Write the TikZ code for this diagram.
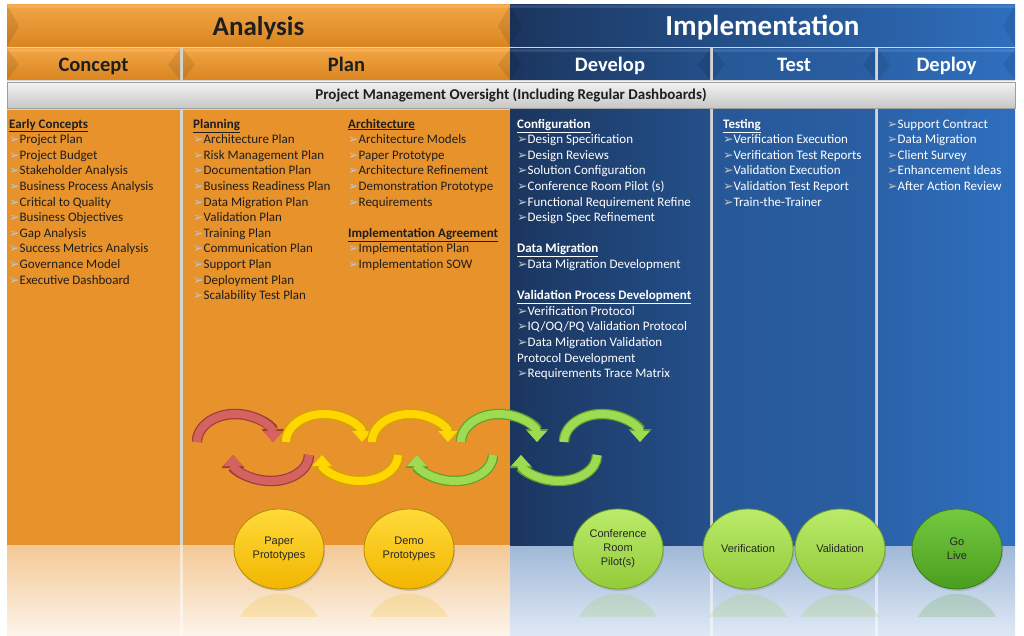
\documentclass[tikz,border=0pt]{standalone}
\usepackage{fontspec}
\setmainfont{Carlito}
\newfontfamily\arialfont{Liberation Sans}
\newfontfamily\dingfont{DejaVu Sans}
\usepackage{tikz}
\usetikzlibrary{arrows.meta, positioning, shapes.geometric, shadows}
\definecolor{orangetop}{HTML}{F2A545}
\definecolor{orangemid}{HTML}{E9952E}
\definecolor{orangebot}{HTML}{D98520}
\definecolor{orangebody}{HTML}{E8922C}
\definecolor{navyL}{HTML}{1B365F}
\definecolor{navyR}{HTML}{2F6FBE}
\definecolor{sepgray}{HTML}{D4D4D4}
\definecolor{inkdark}{HTML}{1E1E1E}
\definecolor{bulorange}{HTML}{B8C6D6}
\definecolor{bulblue}{HTML}{C4C4C4}
\definecolor{ringred}{HTML}{D4625F}
\definecolor{ringredd}{HTML}{A03C3C}
\definecolor{ringyel}{HTML}{FFD600}
\definecolor{ringyeld}{HTML}{CFA600}
\definecolor{ringgrn}{HTML}{9CDB52}
\definecolor{ringgrnd}{HTML}{62A02C}
\definecolor{goldtop}{HTML}{FFDA3A}
\definecolor{goldbot}{HTML}{F2B600}
\definecolor{goldrim}{HTML}{B38A00}
\definecolor{limetop}{HTML}{BBEB6A}
\definecolor{limebot}{HTML}{93CB3A}
\definecolor{limerim}{HTML}{6E9E2A}
\definecolor{livetop}{HTML}{74C940}
\definecolor{livebot}{HTML}{4A9E1E}
\definecolor{liverim}{HTML}{3A7A18}
\colorlet{bul}{bulorange}
\newcommand{\itm}[1]{\strut{\dingfont\fontsize{12.5}{12.5}\selectfont\textcolor{bul}{➢}}#1}
\newcommand{\hd}[1]{\strut\textbf{\underline{#1}}}

\begin{document}
\begin{tikzpicture}[x=1pt, y=-1pt,
    phasebar/.style={rectangle, inner sep=0pt, minimum height=42pt,
        text height=19pt, text depth=0pt, font=\fontsize{27}{30}\selectfont\bfseries},
    stagebar/.style={rectangle, inner sep=0pt, minimum height=31pt,
        text height=14pt, text depth=0pt, font=\fontsize{20.5}{22}\selectfont\bfseries},
    coltext/.style={anchor=north west, inner sep=0pt, align=left,
        font=\fontsize{13}{15.6}\selectfont},
    bullets/.style={execute at begin node={\colorlet{bul}{#1}}},
    milestone/.style n args={3}{ellipse, minimum width=90pt, minimum height=80pt,
        top color=#1, bottom color=#2, draw=#3, line width=0.8pt, align=center,
        text=black!85, font=\arialfont\fontsize{11}{14}\selectfont,
        drop shadow={shadow xshift=1pt, shadow yshift=-2pt, opacity=.3}},
    ringarrow/.style 2 args={draw=#1, line width=8pt,
        -{Triangle[width=19pt, length=11pt]},
        preaction={draw=#2, line width=10.5pt, -{Triangle[width=22.5pt, length=13pt]}}}
]
\useasboundingbox (0,0) rectangle (1024,636);

% backdrop and reflections
\fill[sepgray] (7,5) rectangle (1015,545);
\shade[top color=orangebody!50!white, bottom color=orangebody!10!white] (7,545) rectangle (510,636);
\shade[top color=navyL!25!navyR!45!white, bottom color=navyR!15!white] (510,545) rectangle (1015,636);
\foreach \gx in {180, 710, 875}
    \fill[white, opacity=.5] (\gx,545) rectangle (\gx+3,636);

% column bodies
\fill[orangebody] (7,110) rectangle (180,545);
\fill[orangebody] (183,110) rectangle (510,545);
\shade[left color=navyL, right color=navyL!55!navyR] (510,110) rectangle (710,545);
\shade[left color=navyL!40!navyR, right color=navyL!28!navyR] (713,110) rectangle (875,545);
\shade[left color=navyL!22!navyR, right color=navyR] (878,110) rectangle (1015,545);

% phase headers
\node[phasebar, minimum width=503pt, top color=orangetop, middle color=orangemid,
    bottom color=orangebot, text=inkdark] (analysis) at (258.5,26) {Analysis};
\node[phasebar, minimum width=505pt, left color=navyL, right color=navyR, text=white,
    font=\fontsize{29}{30}\selectfont\bfseries] (implementation) at (762.5,26) {Implementation};

% stage headers
\node[stagebar, minimum width=173pt, top color=orangetop, middle color=orangemid,
    bottom color=orangebot, text=inkdark] (concept) at (93.5,64.5) {Concept};
\node[stagebar, minimum width=327pt, top color=orangetop, middle color=orangemid,
    bottom color=orangebot, text=inkdark] (plan) at (346.5,64.5) {Plan};
\node[stagebar, minimum width=200pt, left color=navyL, right color=navyL!55!navyR,
    text=white] (develop) at (610,64.5) {Develop};
\node[stagebar, minimum width=162pt, left color=navyL!40!navyR, right color=navyL!28!navyR,
    text=white] (test) at (794,64.5) {Test};
\node[stagebar, minimum width=137pt, left color=navyL!22!navyR, right color=navyR,
    text=white] (deploy) at (946.5,64.5) {Deploy};

% bevelled ends of the header bars
\foreach \xa/\ya/\xb/\yb in {7/5/510/47, 510/5/1015/47, 7/49/180/80, 183/49/510/80,
        510/49/710/80, 713/49/875/80, 878/49/1015/80} {
    \fill[black, opacity=.09] (\xa,\ya) -- (\xa+12,{(\ya+\yb)/2}) -- (\xa,\yb) -- cycle;
    \fill[black, opacity=.09] (\xb,\ya) -- (\xb-12,{(\ya+\yb)/2}) -- (\xb,\yb) -- cycle;
    \fill[white, opacity=.10] (\xa,\ya) rectangle (\xb,\ya+3);
}

% oversight bar
\node[rectangle, inner sep=0pt, minimum width=1008pt, minimum height=26pt,
    top color=white!95!black, bottom color=white!78!black, draw=white!62!black,
    font=\fontsize{15}{16}\selectfont\bfseries, text=inkdark] (pmo) at (511,95)
    {Project Management Oversight (Including Regular Dashboards)};

% column texts
\node[coltext, bullets=bulorange, text=inkdark] (concepttxt) at (9,117) {
    \hd{Early Concepts}\\ \itm{Project Plan}\\ \itm{Project Budget}\\
    \itm{Stakeholder Analysis}\\ \itm{Business Process Analysis}\\
    \itm{Critical to Quality}\\ \itm{Business Objectives}\\ \itm{Gap Analysis}\\
    \itm{Success Metrics Analysis}\\ \itm{Governance Model}\\ \itm{Executive Dashboard}};
\node[coltext, bullets=bulorange, text=inkdark] (plantxt) at (193,117) {
    \hd{Planning}\\ \itm{Architecture Plan}\\ \itm{Risk Management Plan}\\
    \itm{Documentation Plan}\\ \itm{Business Readiness Plan}\\ \itm{Data Migration Plan}\\
    \itm{Validation Plan}\\ \itm{Training Plan}\\ \itm{Communication Plan}\\
    \itm{Support Plan}\\ \itm{Deployment Plan}\\ \itm{Scalability Test Plan}};
\node[coltext, bullets=bulorange, text=inkdark] (archtxt) at (348,117) {
    \hd{Architecture}\\ \itm{Architecture Models}\\ \itm{Paper Prototype}\\
    \itm{Architecture Refinement}\\ \itm{Demonstration Prototype}\\ \itm{Requirements}\\[15.6pt]
    \hd{Implementation Agreement}\\ \itm{Implementation Plan}\\ \itm{Implementation SOW}};
\node[coltext, bullets=bulblue, text=white] (developtxt) at (517,117) {
    \hd{Configuration}\\ \itm{Design Specification}\\ \itm{Design Reviews}\\
    \itm{Solution Configuration}\\ \itm{Conference Room Pilot (s)}\\
    \itm{Functional Requirement  Refine}\\ \itm{Design Spec Refinement}\\[15.6pt]
    \hd{Data Migration}\\ \itm{Data Migration Development}\\[15.6pt]
    \hd{Validation Process Development}\\ \itm{Verification Protocol}\\
    \itm{IQ/OQ/PQ Validation Protocol}\\ \itm{Data Migration Validation}\\
    \strut Protocol Development\\ \itm{Requirements Trace Matrix}};
\node[coltext, bullets=bulblue, text=white] (testtxt) at (723,117) {
    \hd{Testing}\\ \itm{Verification Execution}\\ \itm{Verification Test Reports}\\
    \itm{Validation Execution}\\ \itm{Validation Test Report}\\ \itm{Train-the-Trainer}};
\node[coltext, bullets=bulblue, text=white] (deploytxt) at (887,117) {
    \itm{Support Contract}\\ \itm{Data Migration}\\ \itm{Client Survey}\\
    \itm{Enhancement Ideas}\\ \itm{After Action Review}};

% iteration arrows
\foreach \sx/\fc/\ec in {197/ringred/ringredd, 286/ringyel/ringyeld, 372/ringyel/ringyeld,
        461/ringgrn/ringgrnd, 564/ringgrn/ringgrnd}
    \draw[ringarrow={\fc}{\ec}] (\sx,442) arc[start angle=180, end angle=360, x radius=38, y radius=28];
\foreach \sx/\fc/\ec in {309/ringred/ringredd, 398/ringyel/ringyeld,
        493/ringgrn/ringgrnd, 597/ringgrn/ringgrnd}
    \draw[ringarrow={\fc}{\ec}] (\sx,455) arc[start angle=0, end angle=180, x radius=38, y radius=26];

% milestones
\node[milestone={goldtop}{goldbot}{goldrim}] (paper) at (279,549) {Paper\\Prototypes};
\node[milestone={goldtop}{goldbot}{goldrim}] (demo) at (409,549) {Demo\\Prototypes};
\node[milestone={limetop}{limebot}{limerim}] (crp) at (618,549) {Conference\\Room\\Pilot(s)};
\node[milestone={limetop}{limebot}{limerim}] (verif) at (748,549) {Verification};
\node[milestone={limetop}{limebot}{limerim}] (valid) at (840,549) {Validation};
\node[milestone={livetop}{livebot}{liverim}] (golive) at (957,549) {Go\\Live};

% milestone reflections
\begin{scope}
    \clip (0,592) rectangle (1024,616);
    \foreach \mx/\mc in {279/goldbot, 409/goldbot, 618/limebot, 748/limebot,
            840/limebot, 957/livebot}
        \fill[\mc, opacity=.18] (\mx,634) ellipse [x radius=43, y radius=40];
\end{scope}

\end{tikzpicture}
\end{document}
